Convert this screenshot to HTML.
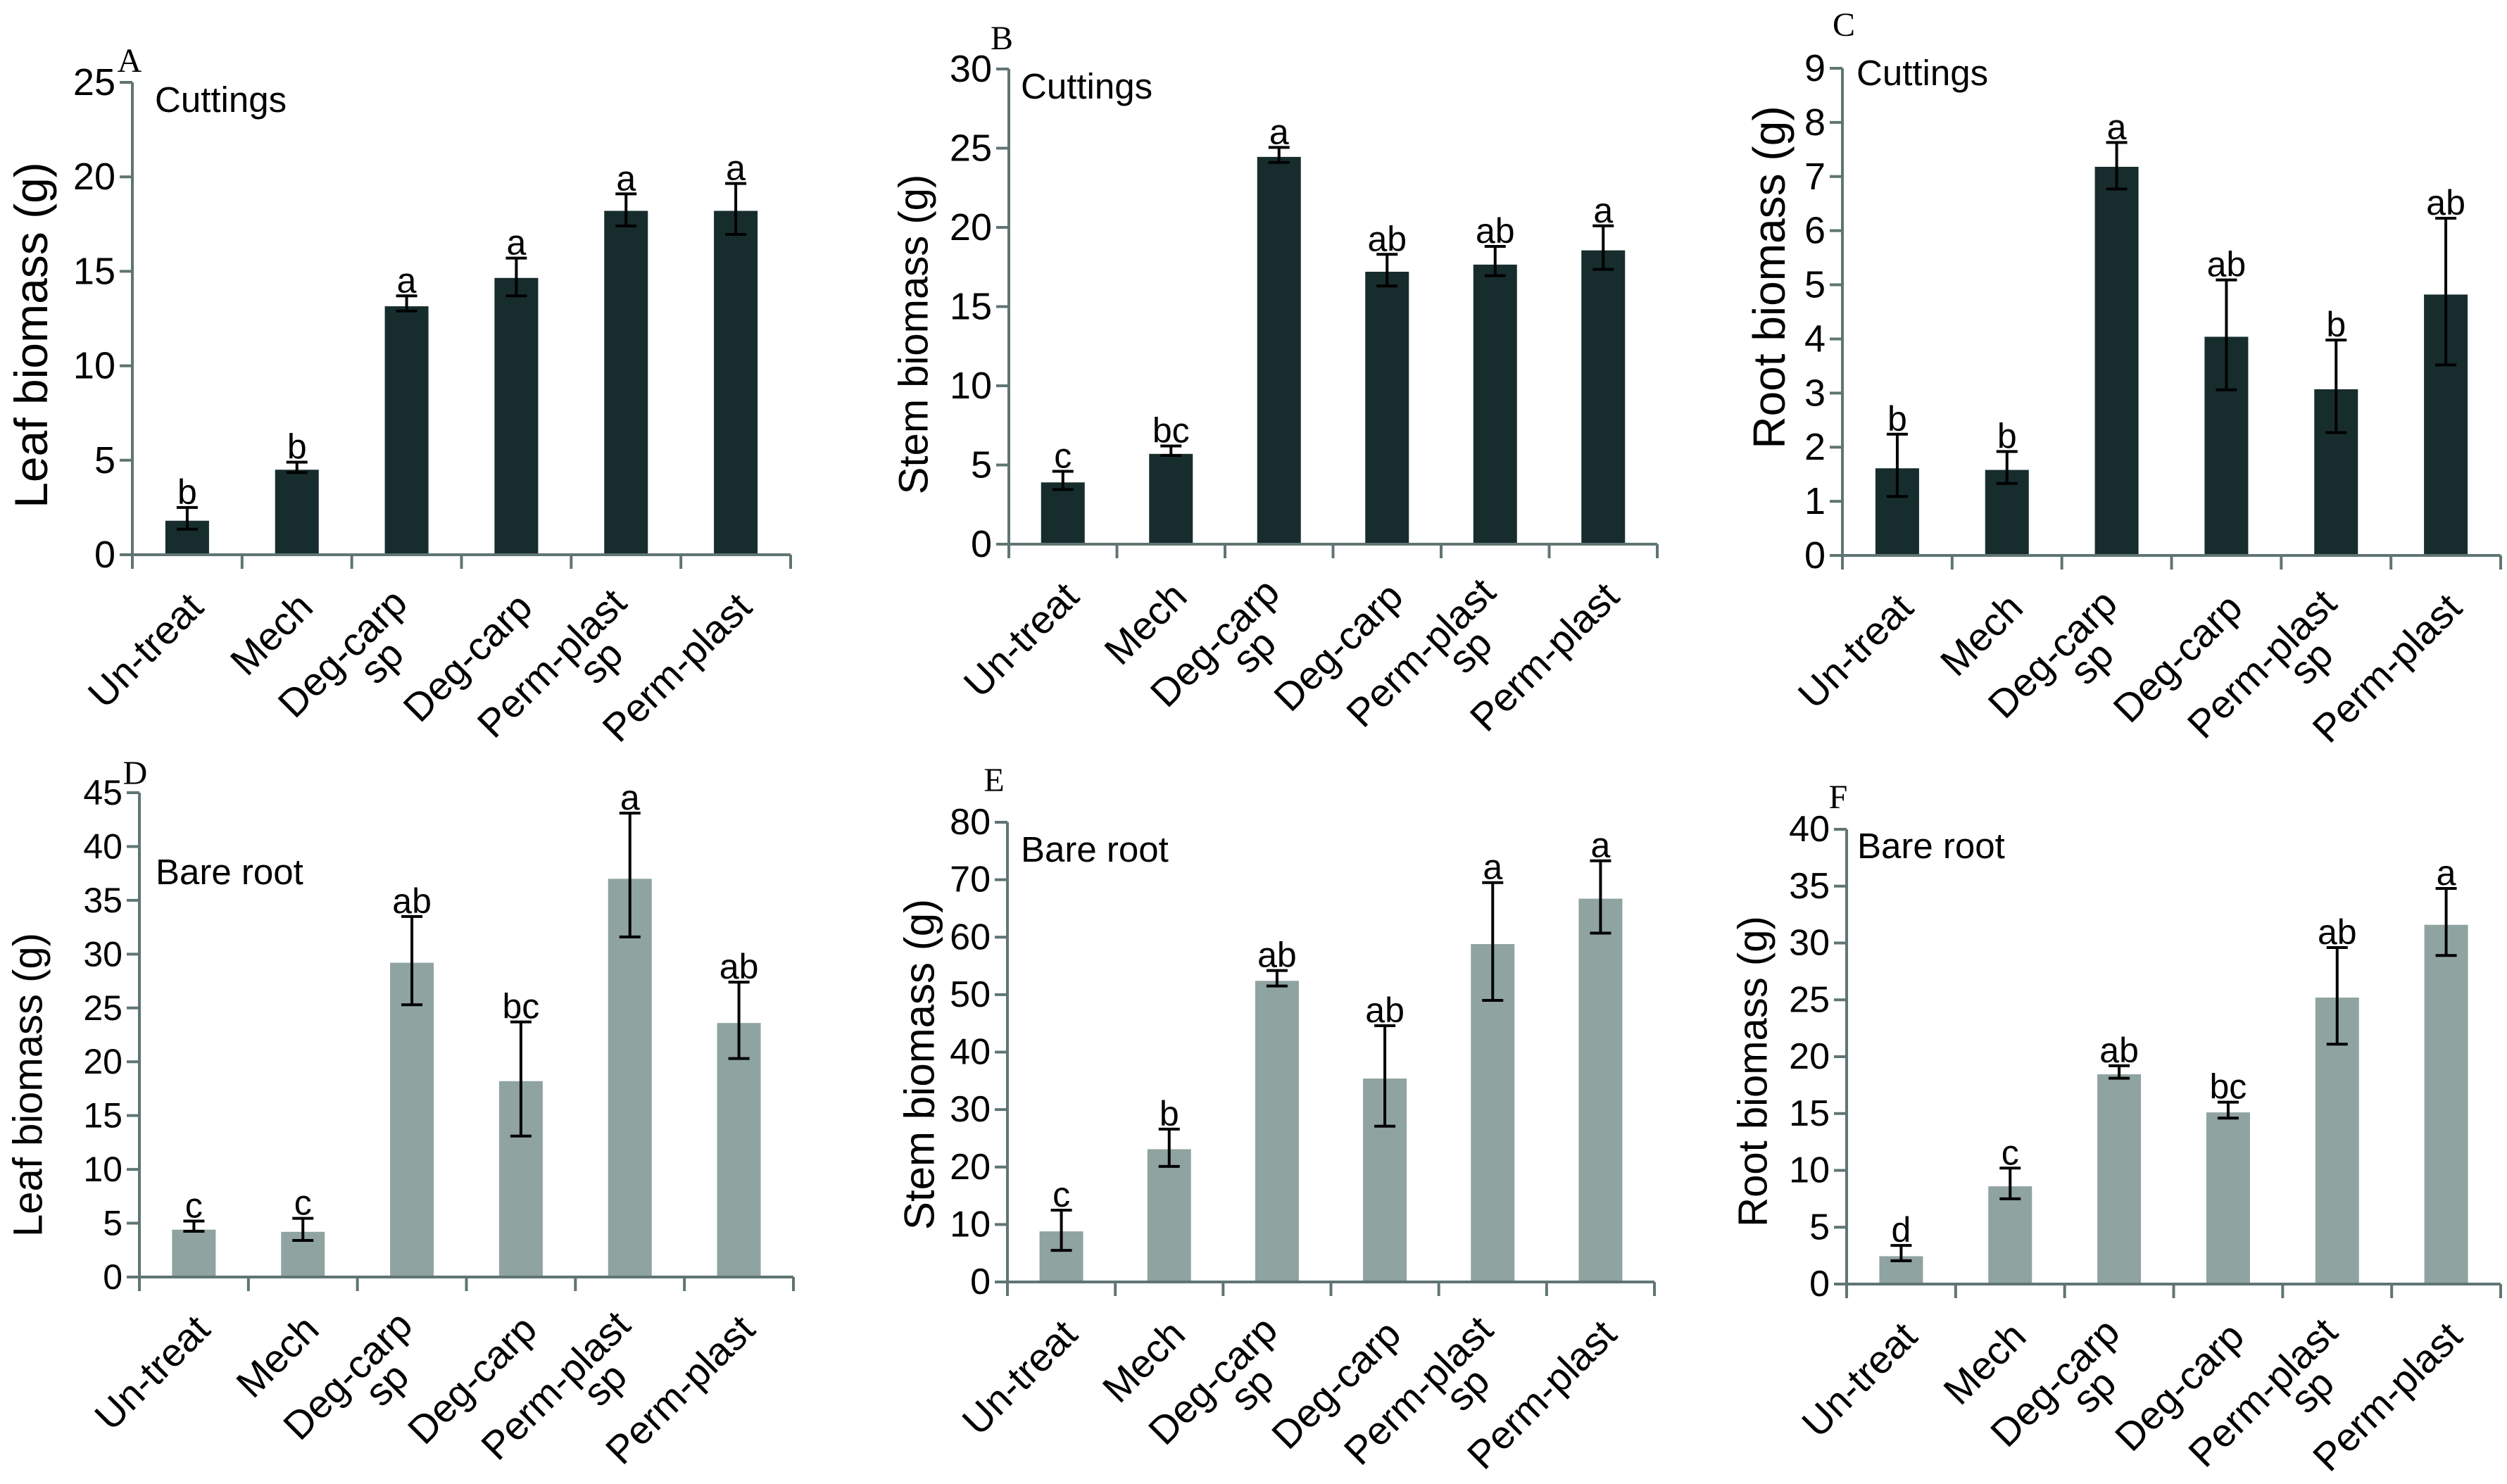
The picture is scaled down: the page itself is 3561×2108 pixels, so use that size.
<!DOCTYPE html>
<html><head><meta charset="utf-8">
<style>
html,body{margin:0;padding:0;background:#fff;overflow:hidden;}
svg{display:block;}
text{font-family:"Liberation Sans",Arial,sans-serif;}
.serif{font-family:"Liberation Serif",serif;}
</style></head>
<body>
<svg id="fig" width="3561" height="2108" viewBox="0 0 3561 2108" xmlns="http://www.w3.org/2000/svg"></svg>
<script>
// ---- data ----
const categories = [["Un-treat"],["Mech"],["Deg-carp","sp"],["Deg-carp"],["Perm-plast","sp"],["Perm-plast"]];
const leafCutMean = [1.8, 4.5, 13.15, 14.65, 18.2, 18.2];
const leafCutHi   = [2.5, 4.9, 13.7, 15.7, 19.1, 19.65];
const leafCutLo   = [1.35, 4.35, 12.9, 13.7, 17.4, 16.95];
const leafCutSig  = ["b","b","a","a","a","a"];
const stemCutMean = [3.9, 5.7, 24.45, 17.2, 17.65, 18.55];
const stemCutHi   = [4.6, 6.2, 25.05, 18.3, 18.8, 20.1];
const stemCutLo   = [3.45, 5.6, 24.1, 16.3, 16.95, 17.35];
const stemCutSig  = ["c","bc","a","ab","ab","a"];
const rootCutMean = [1.61, 1.58, 7.18, 4.04, 3.07, 4.82];
const rootCutHi   = [2.24, 1.92, 7.63, 5.09, 3.98, 6.23];
const rootCutLo   = [1.09, 1.33, 6.77, 3.06, 2.27, 3.52];
const rootCutSig  = ["b","b","a","ab","b","ab"];
const leafBareMean = [4.4, 4.2, 29.2, 18.2, 37.0, 23.6];
const leafBareHi   = [5.2, 5.45, 33.5, 23.7, 43.1, 27.4];
const leafBareLo   = [4.25, 3.4, 25.3, 13.1, 31.6, 20.3];
const leafBareSig  = ["c","c","ab","bc","a","ab"];
const stemBareMean = [8.8, 23.1, 52.4, 35.4, 58.8, 66.7];
const stemBareHi   = [12.5, 26.6, 54.2, 44.6, 69.5, 73.3];
const stemBareLo   = [5.5, 20.1, 51.5, 27.1, 49.0, 60.7];
const stemBareSig  = ["c","b","ab","ab","a","a"];
const rootBareMean = [2.45, 8.6, 18.45, 15.1, 25.2, 31.6];
const rootBareHi   = [3.4, 10.2, 19.2, 16.0, 29.6, 34.8];
const rootBareLo   = [2.05, 7.5, 18.1, 14.6, 21.1, 28.9];
const rootBareSig  = ["d","c","ab","bc","ab","a"];
const ticksA = [0,5,10,15,20,25];
const ticksB = [0,5,10,15,20,25,30];
const ticksC = [0,1,2,3,4,5,6,7,8,9];
const ticksD = [0,5,10,15,20,25,30,35,40,45];
const ticksE = [0,10,20,30,40,50,60,70,80];
const ticksF = [0,5,10,15,20,25,30,35,40];

const NS = "http://www.w3.org/2000/svg";
const svg = document.getElementById("fig");
function mk(tag, attrs, parent, txt){
  const e = document.createElementNS(NS, tag);
  for (const k in attrs) e.setAttribute(k, attrs[k]);
  if (txt !== undefined) e.textContent = txt;
  parent.appendChild(e);
  return e;
}
const AX = "#5f7573";

const panels = [
 {id:"a", letter:"A", lx:184, ly:102, x0:188, x1:1123, y0:788, yT:117, max:25, ticks:ticksA, mean:leafCutMean, hi:leafCutHi, lo:leafCutLo, sig:leafCutSig, color:"#172d2d", group:"Cuttings", gx:220, gy:159, title:"Leaf biomass (g)", tx:44, ty:476, tf:66, tickF:54},
 {id:"b", letter:"B", lx:1423, ly:70, x0:1433, x1:2354, y0:773, yT:98, max:30, ticks:ticksB, mean:stemCutMean, hi:stemCutHi, lo:stemCutLo, sig:stemCutSig, color:"#172d2d", group:"Cuttings", gx:1450, gy:140, title:"Stem biomass (g)", tx:1298, ty:475, tf:58, tickF:54},
 {id:"c", letter:"C", lx:2619, ly:51, x0:2617, x1:3552, y0:789, yT:97, max:9, ticks:ticksC, mean:rootCutMean, hi:rootCutHi, lo:rootCutLo, sig:rootCutSig, color:"#172d2d", group:"Cuttings", gx:2637, gy:121, title:"Root biomass (g)", tx:2513, ty:394, tf:64, tickF:54},
 {id:"d", letter:"D", lx:192, ly:1114, x0:198, x1:1127, y0:1814, yT:1126, max:45, ticks:ticksD, mean:leafBareMean, hi:leafBareHi, lo:leafBareLo, sig:leafBareSig, color:"#8fa3a0", group:"Bare root", gx:221, gy:1256, title:"Leaf biomass (g)", tx:40, ty:1541, tf:58, tickF:50},
 {id:"e", letter:"E", lx:1412, ly:1124, x0:1431, x1:2350, y0:1821, yT:1168, max:80, ticks:ticksE, mean:stemBareMean, hi:stemBareHi, lo:stemBareLo, sig:stemBareSig, color:"#8fa3a0", group:"Bare root", gx:1450, gy:1224, title:"Stem biomass (g)", tx:1306, ty:1512, tf:60, tickF:52},
 {id:"f", letter:"F", lx:2611, ly:1148, x0:2623, x1:3552, y0:1824, yT:1178, max:40, ticks:ticksF, mean:rootBareMean, hi:rootBareHi, lo:rootBareLo, sig:rootBareSig, color:"#8fa3a0", group:"Bare root", gx:2638, gy:1219, title:"Root biomass (g)", tx:2490, ty:1522, tf:58, tickF:52}
];

panels.forEach(p => {
  const g = mk("g", {}, svg);
  
  
  const n = categories.length;
  const bw = (p.x1 - p.x0) / n;
  const yS = v => p.y0 - (v / p.max) * (p.y0 - p.yT);
  const xC = i => p.x0 + bw * (i + 0.5);

  const pl = mk("text", {x:p.lx, y:p.ly, "font-size":48, "text-anchor":"middle", class:"serif", fill:"#000"}, g, p.letter);
  
  

  const gl = mk("text", {x:p.gx, y:p.gy, "font-size":51, fill:"#000"}, g, p.group);
  
  

  const tt = mk("text", {x:p.tx, y:p.ty, "font-size":p.tf, "text-anchor":"middle", "dominant-baseline":"central", transform:`rotate(-90 ${p.tx} ${p.ty})`, fill:"#000"}, g, p.title);
  
  

  for (let i = 0; i < n; i++) {
    const top = yS(p.mean[i]);
    const r = mk("rect", {x:xC(i) - 31, y:top, width:62, height:p.y0 - top, fill:p.color}, g);
    
    
    const yh = yS(p.hi[i]), yl = yS(p.lo[i]);
    const eb = mk("path", {d:`M${xC(i)},${yh}V${yl}M${xC(i)-15},${yh}H${xC(i)+15}M${xC(i)-15},${yl}H${xC(i)+15}`, stroke:"#000", "stroke-width":4, fill:"none"}, g);
    
    
    const s = mk("text", {x:xC(i), y:yh - 5, "font-size":50, "text-anchor":"middle", fill:"#000"}, g, p.sig[i]);
    
    
  }

  const ya = mk("line", {x1:p.x0, y1:p.yT, x2:p.x0, y2:p.y0 + 20, stroke:AX, "stroke-width":4}, g);
  
  
  const xa = mk("line", {x1:p.x0 - 18, y1:p.y0, x2:p.x1, y2:p.y0, stroke:AX, "stroke-width":4}, g);
  
  
  for (let k = 1; k <= n; k++) {
    const xx = p.x0 + bw * k;
    const tk = mk("line", {x1:xx, y1:p.y0, x2:xx, y2:p.y0 + 20, stroke:AX, "stroke-width":4}, g);
    
    
  }
  p.ticks.forEach(t => {
    const yy = yS(t);
    const tk = mk("line", {x1:p.x0 - 18, y1:yy, x2:p.x0, y2:yy, stroke:AX, "stroke-width":4}, g);
    
    
    const tl = mk("text", {x:p.x0 - 24, y:yy, "font-size":p.tickF, "text-anchor":"end", "dominant-baseline":"central", fill:"#000"}, g, String(t));
    
    
  });

  categories.forEach((lines, i) => {
    const cx = xC(i);
    const pts = lines.length === 1 ? [[cx + 12, p.y0 + 64]] : [[cx - 10, p.y0 + 58], [cx - 15, p.y0 + 131]];
    lines.forEach((ln, j) => {
      const t = mk("text", {"font-size":56, "text-anchor":"end", "dominant-baseline":"central", transform:`translate(${pts[j][0]} ${pts[j][1]}) rotate(-45)`, fill:"#000"}, g, ln);
      
      
    });
  });
});
</script>
</body></html>
